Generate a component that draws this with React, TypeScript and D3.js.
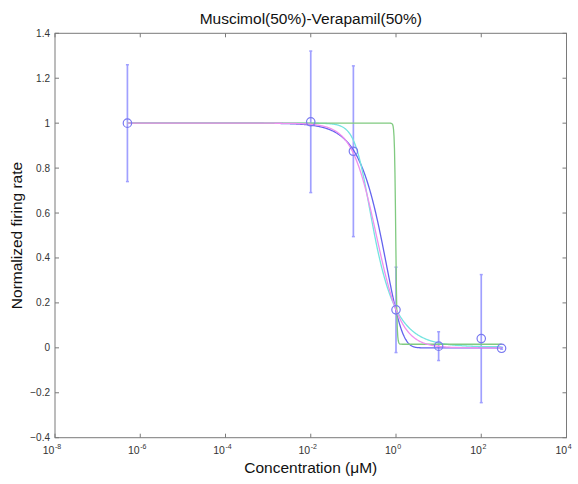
import React from "react";
import * as d3 from "d3";

// Measured dose-response points
const concentrations = [5e-7, 0.01, 0.1, 1, 10, 100, 300];
const meanRates = [1.0, 1.006, 0.875, 0.169, 0.0075, 0.041, -0.002];
const errRates = [0.26, 0.315, 0.38, 0.19, 0.064, 0.285, 0.004];

// Fitted model parameters
// blue: Weibull-type decay exp(-(x/k)^m)
const blueFit = { k: 0.6, m: 1.15 };
// magenta: Hill curve
const magentaFit = { top: 1, bottom: 0, ic50: 0.347, n: 1.5 };
// cyan: Richards (asymmetric) curve
const cyanFit = { c: 0.163, n: 2.79, s: 0.35, bottom: 0.004 };
// green: very steep Hill curve
const greenFit = { top: 1, bottom: 0.016, ic50: 0.985, n: 30 };

const yTicks = [1.4, 1.2, 1, 0.8, 0.6, 0.4, 0.2, 0, -0.2, -0.4];
const xTickExps = [-8, -6, -4, -2, 0, 2, 4];

const W = 578;
const H = 484;
const left = 55;
const right = 566.5;
const top = 33.3;
const bottom = 437.7;

const hill = (p: { top: number; bottom: number; ic50: number; n: number }) => (x: number) =>
  p.bottom + (p.top - p.bottom) / (1 + Math.pow(x / p.ic50, p.n));
const weibull = (p: { k: number; m: number }) => (x: number) => Math.exp(-Math.pow(x / p.k, p.m));
const richards = (p: { c: number; n: number; s: number; bottom: number }) => (x: number) =>
  p.bottom + (1 - p.bottom) * Math.pow(1 + Math.pow(x / p.c, p.n), -p.s);

const curves = [
  { name: "blue", fn: weibull(blueFit), color: "#6464ee" },
  { name: "cyan", fn: richards(cyanFit), color: "#74e4e0" },
  { name: "green", fn: hill(greenFit), color: "#80ca80" },
  { name: "magenta", fn: hill(magentaFit), color: "#ef90ef" },
];

export default function App() {
  const x = d3.scaleLog().domain([1e-8, 1e4]).range([left, right]);
  const y = d3.scaleLinear().domain([-0.4, 1.4]).range([bottom, top]);

  const lx0 = Math.log10(concentrations[0]);
  const lx1 = Math.log10(concentrations[concentrations.length - 1]);
  const samples = d3.range(0, 801).map((i) => Math.pow(10, lx0 + ((lx1 - lx0) * i) / 800));

  const line = (fn: (v: number) => number) =>
    d3
      .line<number>()
      .x((v) => x(v))
      .y((v) => y(fn(v)))(samples) || "";

  const axisColor = "#7a7a7a";
  const textColor = "#333";
  const font = "Arial, 'Liberation Sans', sans-serif";

  return (
    <svg
      width={W}
      height={H}
      style={{ position: "absolute", left: 0, top: 0, background: "#fff" }}
      fontFamily={font}
    >
      <rect x={0} y={0} width={W} height={H} fill="#fff" />
      {/* title */}
      <text x={(left + right) / 2} y={24} textAnchor="middle" fontSize={15.5} fill="#111">
        Muscimol(50%)-Verapamil(50%)
      </text>

      {/* error bars */}
      <g>
        {concentrations.map((c, i) => {
          const cx = x(c);
          const y1 = y(meanRates[i] + errRates[i]);
          const y2 = y(meanRates[i] - errRates[i]);
          return (
            <g key={i}>
              <line x1={cx} x2={cx} y1={y1} y2={y2} stroke="#a0a0ff" strokeWidth={1.7} />
              <line x1={cx - 1.5} x2={cx + 1.5} y1={y1} y2={y1} stroke="#a0a0ff" strokeWidth={1.5} />
              <line x1={cx - 1.5} x2={cx + 1.5} y1={y2} y2={y2} stroke="#a0a0ff" strokeWidth={1.5} />
            </g>
          );
        })}
      </g>

      {/* fitted curves */}
      <g fill="none">
        {curves.map((cv) => (
          <path key={cv.name} d={line(cv.fn)} stroke={cv.color} strokeWidth={1.3} />
        ))}
      </g>

      {/* mean markers */}
      <g>
        {concentrations.map((c, i) => (
          <circle
            key={i}
            cx={x(c)}
            cy={y(meanRates[i])}
            r={4.2}
            fill="none"
            stroke="#7878f0"
            strokeWidth={1.2}
          />
        ))}
      </g>

      {/* axes box */}
      <rect
        x={left}
        y={top}
        width={right - left}
        height={bottom - top}
        fill="none"
        stroke={axisColor}
        strokeWidth={1}
      />

      {/* y ticks */}
      <g>
        {yTicks.map((t) => (
          <g key={t}>
            <line x1={left} x2={left + 4} y1={y(t)} y2={y(t)} stroke={axisColor} />
            <line x1={right - 4} x2={right} y1={y(t)} y2={y(t)} stroke={axisColor} />
            <text x={left - 5} y={y(t) + 3.5} textAnchor="end" fontSize={10} fill={textColor}>
              {d3.format("")(t)}
            </text>
          </g>
        ))}
      </g>

      {/* x ticks */}
      <g>
        {xTickExps.map((e) => {
          const px = x(Math.pow(10, e));
          return (
            <g key={e}>
              <line x1={px} x2={px} y1={bottom} y2={bottom - 4} stroke={axisColor} />
              <line x1={px} x2={px} y1={top} y2={top + 4} stroke={axisColor} />
              <text x={px - 3} y={bottom + 16} textAnchor="middle" fontSize={10.5} fill={textColor}>
                10
                <tspan dx={0.5} dy={-5} fontSize={7}>
                  {e}
                </tspan>
              </text>
            </g>
          );
        })}
      </g>

      {/* axis labels */}
      <text x={(left + right) / 2} y={473} textAnchor="middle" fontSize={15.5} fill="#111">
        Concentration (μM)
      </text>
      <text
        transform={`translate(22, ${(top + bottom) / 2}) rotate(-90)`}
        textAnchor="middle"
        fontSize={15.5}
        fill="#111"
      >
        Normalized firing rate
      </text>
    </svg>
  );
}
